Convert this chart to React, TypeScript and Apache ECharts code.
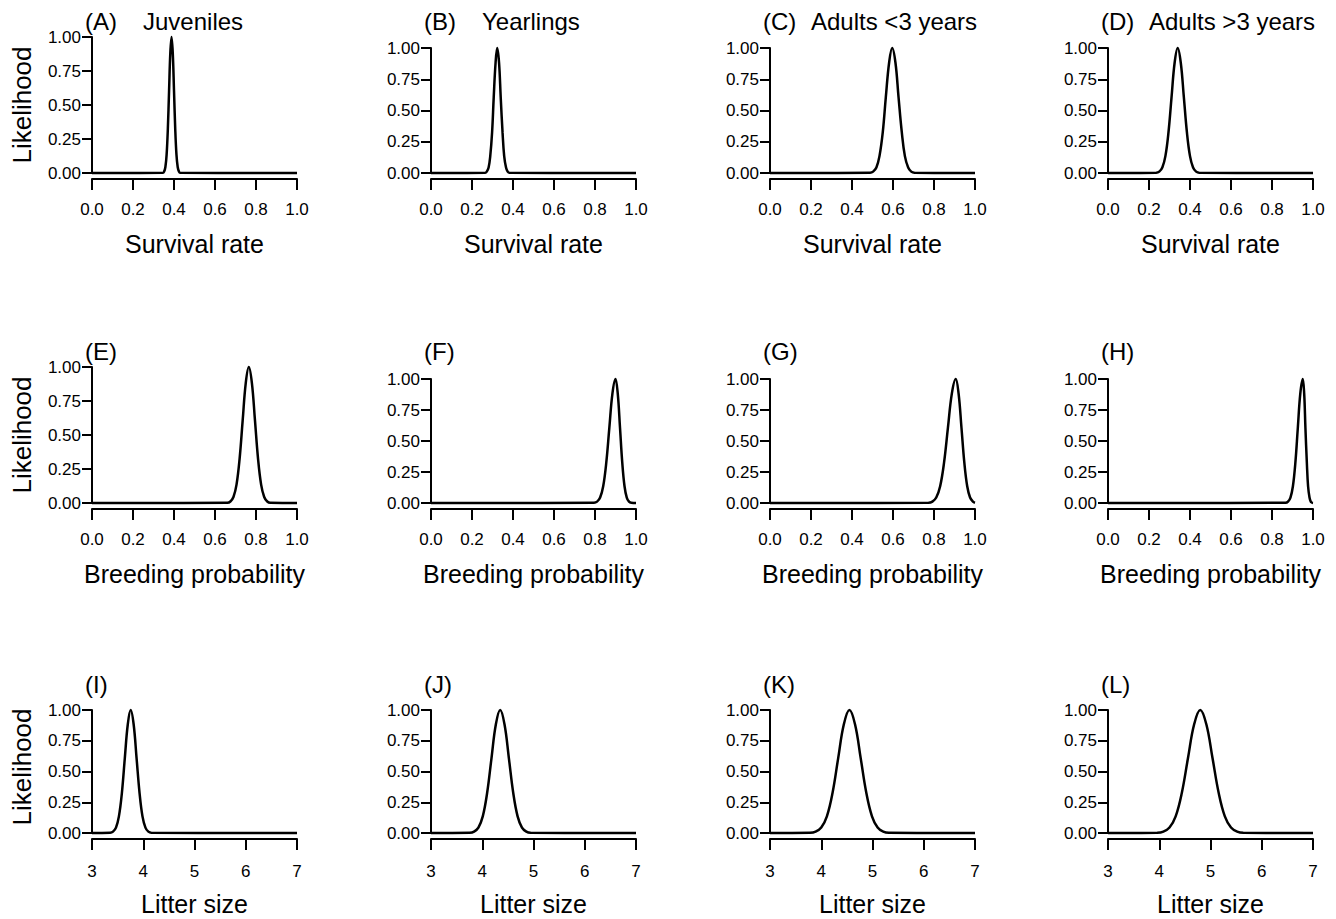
import React, { useEffect, useRef } from "react";
import * as echarts from "echarts";

// ---- texts ----
const panelLabels = ["(A)", "(B)", "(C)", "(D)", "(E)", "(F)", "(G)", "(H)", "(I)", "(J)", "(K)", "(L)"];
const stageTitles = ["Juveniles", "Yearlings", "Adults <3 years", "Adults >3 years"];
const rowAxisTitles = ["Survival rate", "Breeding probability", "Litter size"];
const yTitle = "Likelihood";

// ---- axis ranges per row ----
const rowXMin = [0, 0, 3];
const rowXMax = [1, 1, 7];
const rowXInterval = [0.2, 0.2, 1];
const rowXDecimals = [1, 1, 0];

// ---- curves (x, likelihood) ----
const juvSurvival = [[0, 0], [0.346, 0.002], [0.352, 0.011], [0.358, 0.044], [0.364, 0.135], [0.37, 0.325], [0.376, 0.607], [0.382, 0.882], [0.388, 1], [0.394, 0.882], [0.4, 0.607], [0.406, 0.325], [0.412, 0.135], [0.418, 0.044], [0.424, 0.011], [0.43, 0.002], [1, 0]];
const yrlSurvival = [[0, 0], [0.264, 0.002], [0.272, 0.011], [0.281, 0.044], [0.289, 0.135], [0.298, 0.325], [0.306, 0.607], [0.315, 0.882], [0.323, 1], [0.332, 0.882], [0.34, 0.607], [0.349, 0.325], [0.357, 0.135], [0.366, 0.044], [0.374, 0.011], [0.383, 0.002], [1, 0]];
const ad3Survival = [[0, 0], [0.488, 0.002], [0.503, 0.011], [0.519, 0.044], [0.534, 0.135], [0.55, 0.325], [0.565, 0.607], [0.581, 0.882], [0.596, 1], [0.612, 0.882], [0.627, 0.607], [0.643, 0.325], [0.658, 0.135], [0.674, 0.044], [0.689, 0.011], [0.705, 0.002], [1, 0]];
const adOSurvival = [[0, 0], [0.235, 0.002], [0.25, 0.011], [0.265, 0.044], [0.28, 0.135], [0.295, 0.325], [0.31, 0.607], [0.325, 0.882], [0.34, 1], [0.355, 0.882], [0.37, 0.607], [0.385, 0.325], [0.4, 0.135], [0.415, 0.044], [0.43, 0.011], [0.445, 0.002], [1, 0]];

const juvBreeding = [[0, 0], [0.66, 0.002], [0.675, 0.011], [0.69, 0.044], [0.705, 0.135], [0.72, 0.325], [0.735, 0.607], [0.75, 0.882], [0.765, 1], [0.78, 0.882], [0.795, 0.607], [0.81, 0.325], [0.825, 0.135], [0.84, 0.044], [0.855, 0.011], [0.87, 0.002], [1, 0]];
const yrlBreeding = [[0, 0], [0.795, 0.002], [0.81, 0.011], [0.825, 0.044], [0.84, 0.135], [0.855, 0.325], [0.87, 0.607], [0.885, 0.882], [0.9, 1], [0.911, 0.882], [0.922, 0.607], [0.933, 0.325], [0.944, 0.135], [0.955, 0.044], [0.966, 0.011], [0.977, 0.002], [1, 0]];
const ad3Breeding = [[0, 0], [0.773, 0.002], [0.792, 0.011], [0.811, 0.044], [0.83, 0.135], [0.849, 0.325], [0.868, 0.607], [0.887, 0.882], [0.906, 1], [0.92, 0.882], [0.934, 0.607], [0.948, 0.325], [0.962, 0.135], [0.976, 0.044], [0.99, 0.011], [1, 0.002]];
const adOBreeding = [[0, 0], [0.866, 0.002], [0.878, 0.011], [0.89, 0.044], [0.902, 0.135], [0.914, 0.325], [0.926, 0.607], [0.938, 0.882], [0.95, 1], [0.957, 0.882], [0.963, 0.607], [0.97, 0.325], [0.976, 0.135], [0.983, 0.044], [0.989, 0.011], [0.996, 0.002], [1, 0]];

const juvLitter = [[3, 0], [3.354, 0.002], [3.41, 0.011], [3.468, 0.044], [3.525, 0.135], [3.583, 0.325], [3.64, 0.607], [3.698, 0.882], [3.755, 1], [3.813, 0.882], [3.87, 0.607], [3.928, 0.325], [3.985, 0.135], [4.043, 0.044], [4.1, 0.011], [4.158, 0.002], [7, 0]];
const yrlLitter = [[3, 0], [3.755, 0.002], [3.84, 0.011], [3.925, 0.044], [4.01, 0.135], [4.095, 0.325], [4.18, 0.607], [4.265, 0.882], [4.35, 1], [4.435, 0.882], [4.52, 0.607], [4.605, 0.325], [4.69, 0.135], [4.775, 0.044], [4.86, 0.011], [4.945, 0.002], [7, 0]];
const ad3Litter = [[3, 0], [3.78, 0.002], [3.89, 0.011], [4.0, 0.044], [4.11, 0.135], [4.22, 0.325], [4.33, 0.607], [4.44, 0.882], [4.55, 1], [4.66, 0.882], [4.77, 0.607], [4.88, 0.325], [4.99, 0.135], [5.1, 0.044], [5.21, 0.011], [5.32, 0.002], [7, 0]];
const adOLitter = [[3, 0], [3.96, 0.002], [4.08, 0.011], [4.2, 0.044], [4.32, 0.135], [4.44, 0.325], [4.56, 0.607], [4.68, 0.882], [4.8, 1], [4.92, 0.882], [5.04, 0.607], [5.16, 0.325], [5.28, 0.135], [5.4, 0.044], [5.52, 0.011], [5.64, 0.002], [7, 0]];

const panelCurves = [
  juvSurvival, yrlSurvival, ad3Survival, adOSurvival,
  juvBreeding, yrlBreeding, ad3Breeding, adOBreeding,
  juvLitter, yrlLitter, ad3Litter, adOLitter,
];

// ---- layout ----
const colLeft = [92, 431, 770, 1108];
const plotWidth = 205;
const rowTop = [48, 379, 710];
const rowBottom = [173, 503, 833];
const firstColTop = [37, 367, 710];
const FONT = "Liberation Sans, Arial, Helvetica, sans-serif";

function buildOption() {
  const grid: any[] = [];
  const xAxis: any[] = [];
  const yAxis: any[] = [];
  const series: any[] = [];
  const graphic: any[] = [];

  for (let r = 0; r < 3; r++) {
    for (let c = 0; c < 4; c++) {
      const i = r * 4 + c;
      const top = c === 0 ? firstColTop[r] : rowTop[r];
      grid.push({ left: colLeft[c], top, width: plotWidth, height: rowBottom[r] - top, containLabel: false });
      const dec = rowXDecimals[r];
      xAxis.push({
        type: "value",
        gridIndex: i,
        min: rowXMin[r],
        max: rowXMax[r],
        interval: rowXInterval[r],
        offset: 6,
        axisLine: { show: true, onZero: false, lineStyle: { color: "#000", width: 2 } },
        axisTick: { show: true, length: 11, lineStyle: { color: "#000", width: 2 } },
        axisLabel: { color: "#000", fontSize: 17, fontFamily: FONT, margin: r === 2 ? 24 : 22, formatter: (v: number) => v.toFixed(dec) },
        splitLine: { show: false },
        name: rowAxisTitles[r],
        nameLocation: "middle",
        nameGap: 52,
        nameTextStyle: { color: "#000", fontSize: 25, fontFamily: FONT },
      });
      yAxis.push({
        type: "value",
        gridIndex: i,
        min: 0,
        max: 1,
        interval: 0.25,
        axisLine: { show: true, lineStyle: { color: "#000", width: 2 } },
        axisTick: { show: true, length: 10, lineStyle: { color: "#000", width: 2 } },
        axisLabel: { color: "#000", fontSize: 17, fontFamily: FONT, margin: 11, formatter: (v: number) => v.toFixed(2) },
        splitLine: { show: false },
      });
      series.push({
        type: "line",
        xAxisIndex: i,
        yAxisIndex: i,
        data: panelCurves[i],
        showSymbol: false,
        smooth: 0.4,
        clip: false,
        silent: true,
        lineStyle: { color: "#000", width: 2.5 },
      });

      const labelY = r === 0 ? 21 : r === 1 ? 351 : 684;
      graphic.push({
        type: "text",
        x: colLeft[c] - 7,
        y: labelY,
        style: { text: panelLabels[i], font: `24px ${FONT}`, fill: "#000", textAlign: "left", textVerticalAlign: "middle" },
      });
      if (r === 0) {
        graphic.push({
          type: "text",
          x: colLeft[c] + (c < 2 ? 51 : 41),
          y: labelY,
          style: { text: stageTitles[c], font: `24px ${FONT}`, fill: "#000", textAlign: "left", textVerticalAlign: "middle" },
        });
      }
      if (c === 0) {
        graphic.push({
          type: "text",
          x: 22,
          y: r === 2 ? 767 : (top + rowBottom[r]) / 2,
          rotation: Math.PI / 2,
          style: { text: yTitle, font: `26px ${FONT}`, fill: "#000", textAlign: "center", textVerticalAlign: "middle" },
        });
      }
    }
  }

  return {
    animation: false,
    backgroundColor: "#fff",
    grid,
    xAxis,
    yAxis,
    series,
    graphic,
  };
}

export default function App() {
  const ref = useRef<HTMLDivElement>(null);
  useEffect(() => {
    if (!ref.current) return;
    const chart = echarts.init(ref.current, null, { renderer: "svg" });
    chart.setOption(buildOption());
    return () => chart.dispose();
  }, []);
  return (
    <div
      ref={ref}
      style={{ position: "absolute", left: 0, top: 0, width: 1336, height: 919, background: "#fff" }}
    />
  );
}
